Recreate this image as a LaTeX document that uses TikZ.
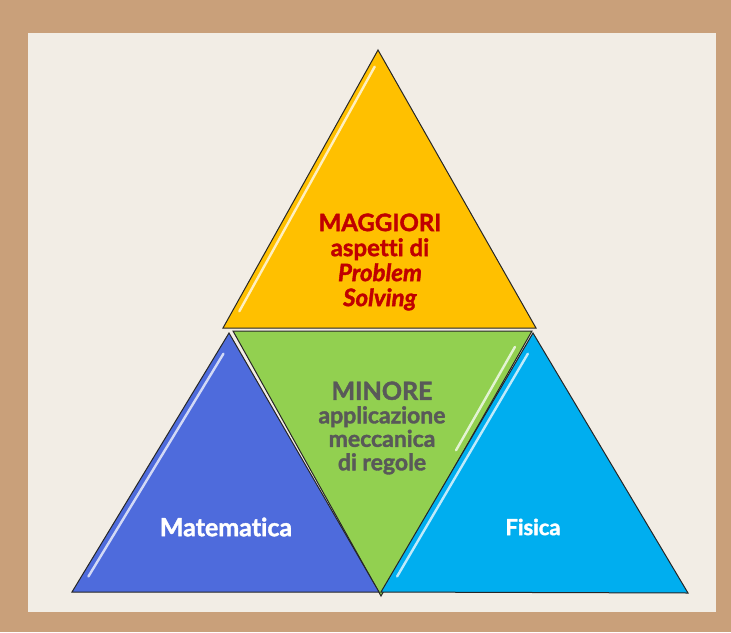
\documentclass[tikz,border=0pt]{standalone}
\usepackage{fontspec}
\setmainfont{Lato}[Ligatures=NoCommon,
  BoldFeatures={FakeBold=1.6},
  BoldItalicFeatures={FakeBold=1.6}]
\usetikzlibrary{calc}
\definecolor{frame}{HTML}{C9A07A}
\definecolor{paper}{HTML}{F2EDE5}
\definecolor{gold}{HTML}{FFC000}
\definecolor{lime}{HTML}{92D050}
\definecolor{royal}{HTML}{4E6BDC}
\definecolor{sky}{HTML}{00AEEF}
\definecolor{deepred}{HTML}{C00000}
\definecolor{slate}{HTML}{595959}
\tikzset{
  face/.style={draw=black!85, line width=1pt, line join=miter},
  shine/.style={white, line width=2.4pt, opacity=.75, line cap=round},
  tritext/.style={
    align=center,
    font=\bfseries,
    inner sep=0pt},
}

\begin{document}
\begin{tikzpicture}
  [x=1pt, y=-1pt]
  % frame and paper
  \fill[frame] (0,0) rectangle (731,632);
  \fill[paper] (28,33) rectangle (716,612);
  \useasboundingbox (0,0) rectangle (731,632);
  % corners of the four triangles
  \coordinate (GoldTop) at (378,50);
  \coordinate (GoldL) at (223,328);
  \coordinate (GoldR) at (536,328);
  \coordinate (LimeL) at (233,331);
  \coordinate (LimeR) at (532,331);
  \coordinate (LimeB) at (381,596);
  \coordinate (RoyalTop) at (229,333);
  \coordinate (RoyalL) at (72,592);
  \coordinate (RoyalR) at (379,592);
  \coordinate (SkyTop) at (533,333);
  \coordinate (SkyL) at (381,592);
  \coordinate (SkyR) at (688,593);
  % middle one first, the others lie over its edges
  \filldraw[face, fill=lime] (LimeL) -- (LimeR) -- (LimeB) -- cycle;
  \draw[shine] ($(LimeR)!.06!(LimeB)+(-8,0)$) -- ($(LimeR)!.45!(LimeB)+(-8,0)$);
  \filldraw[face, fill=royal] (RoyalTop) -- (RoyalR) -- (RoyalL) -- cycle;
  \draw[shine] ($(RoyalTop)!.08!(RoyalL)+(7,0)$) -- ($(RoyalTop)!.94!(RoyalL)+(7,0)$);
  \filldraw[face, fill=sky] (SkyTop) -- (SkyR) -- (SkyL) -- cycle;
  \draw[shine] ($(SkyTop)!.08!(SkyL)+(7,0)$) -- ($(SkyTop)!.94!(SkyL)+(7,0)$);
  \filldraw[face, fill=gold] (GoldTop) -- (GoldR) -- (GoldL) -- cycle;
  \draw[shine] ($(GoldTop)!.06!(GoldL)+(6,0)$) -- ($(GoldTop)!.94!(GoldL)+(7,0)$);
  % texts
  \node[tritext, text=deepred, font=\bfseries\fontsize{24}{25}\selectfont]
    (Maggiori) at (380,262)
    {MAGGIORI\\aspetti di\\\textit{Problem}\\\textit{Solving}};
  \node[tritext, text=slate, font=\bfseries\fontsize{23}{23.5}\selectfont]
    (Minore) at (382,428)
    {{\fontsize{25}{25}\selectfont MINORE}\\applicazione\\meccanica\\di regole};
  \node[tritext, text=white, font=\bfseries\fontsize{25}{25}\selectfont]
    (Matematica) at (226,527) {Matematica};
  \node[tritext, text=white, font=\bfseries\fontsize{22}{22}\selectfont]
    (Fisica) at (533,527) {Fisica};
\end{tikzpicture}
\end{document}
